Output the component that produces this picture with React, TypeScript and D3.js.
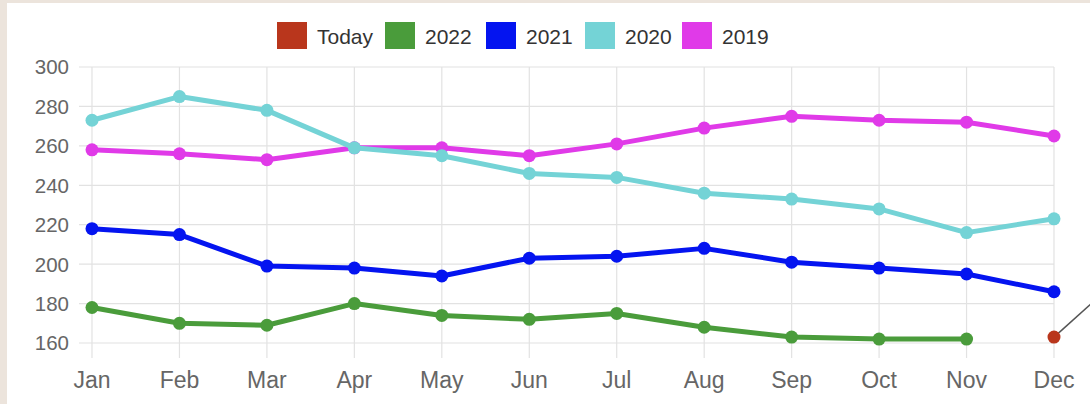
import React, { useEffect, useRef } from 'react';
import * as d3 from 'd3';

const months = ['Jan', 'Feb', 'Mar', 'Apr', 'May', 'Jun', 'Jul', 'Aug', 'Sep', 'Oct', 'Nov', 'Dec'];
const yTicks = [160, 180, 200, 220, 240, 260, 280, 300];

const values2019 = [258, 256, 253, 259, 259, 255, 261, 269, 275, 273, 272, 265];
const values2020 = [273, 285, 278, 259, 255, 246, 244, 236, 233, 228, 216, 223];
const values2021 = [218, 215, 199, 198, 194, 203, 204, 208, 201, 198, 195, 186];
const values2022 = [178, 170, 169, 180, 174, 172, 175, 168, 163, 162, 162, null];
const valuesToday = [null, null, null, null, null, null, null, null, null, null, null, 163];

const seriesNames = ['Today', '2022', '2021', '2020', '2019'];
const seriesColors = ['#b9361c', '#4a9c3b', '#0414f0', '#74d3d6', '#e03ae8'];

const width = 1090;
const height = 404;

const App: React.FC = () => {
  const ref = useRef<SVGSVGElement | null>(null);

  useEffect(() => {
    if (!ref.current) return;
    const svg = d3.select(ref.current);
    svg.selectAll('*').remove();

    // frame
    svg.append('rect').attr('width', width).attr('height', height).attr('fill', '#ece4dc');
    svg.append('rect').attr('x', 7).attr('y', 3).attr('width', width - 7).attr('height', height - 3).attr('fill', '#ffffff');

    const x = d3.scalePoint<string>().domain(months).range([92, 1054]);
    const y = d3.scaleLinear().domain([160, 300]).range([343, 67]);

    const grid = svg.append('g');
    grid.selectAll('.hgrid')
      .data(yTicks)
      .enter().append('line')
      .attr('x1', 79).attr('x2', 1054)
      .attr('y1', d => y(d)).attr('y2', d => y(d))
      .attr('stroke', '#e2e2e2').attr('stroke-width', 1.2);
    grid.selectAll('.vgrid')
      .data(months)
      .enter().append('line')
      .attr('x1', d => x(d) as number).attr('x2', d => x(d) as number)
      .attr('y1', y(300)).attr('y2', 358)
      .attr('stroke', '#e2e2e2').attr('stroke-width', 1.2);

    svg.selectAll('.ylab')
      .data(yTicks)
      .enter().append('text')
      .attr('x', 69).attr('y', d => y(d))
      .attr('dy', '0.36em')
      .attr('text-anchor', 'end')
      .attr('font-family', 'Liberation Sans, Arial, sans-serif')
      .attr('font-size', 20.5)
      .attr('fill', '#666')
      .text(d => d);

    svg.selectAll('.xlab')
      .data(months)
      .enter().append('text')
      .attr('x', d => x(d) as number).attr('y', 388)
      .attr('text-anchor', 'middle')
      .attr('font-family', 'Liberation Sans, Arial, sans-serif')
      .attr('font-size', 23)
      .attr('fill', '#666')
      .text(d => d);

    // callout line from today's point
    svg.append('line')
      .attr('x1', x('Dec') as number).attr('y1', y(163))
      .attr('x2', 1092).attr('y2', 303)
      .attr('stroke', '#555').attr('stroke-width', 1.5);

    const allSeries = [valuesToday, values2022, values2021, values2020, values2019];
    const drawOrder = [4, 3, 2, 1, 0];
    const line = d3.line<number | null>()
      .defined(d => d != null)
      .x((_, i) => x(months[i]) as number)
      .y(d => y(d as number));

    drawOrder.forEach(si => {
      const data = allSeries[si];
      const color = seriesColors[si];
      svg.append('path')
        .datum(data)
        .attr('d', line)
        .attr('fill', 'none')
        .attr('stroke', color)
        .attr('stroke-width', 5)
        .attr('stroke-linejoin', 'round');
      svg.append('g').selectAll('circle')
        .data(data.map((v, i) => ({ v, i })).filter(d => d.v != null))
        .enter().append('circle')
        .attr('cx', d => x(months[d.i]) as number)
        .attr('cy', d => y(d.v as number))
        .attr('r', 6.5)
        .attr('fill', color);
    });

    // legend
    const legendX = [277, 385, 486, 585, 682];
    const legend = svg.append('g');
    seriesNames.forEach((name, i) => {
      legend.append('rect')
        .attr('x', legendX[i]).attr('y', 22)
        .attr('width', 30).attr('height', 27)
        .attr('fill', seriesColors[i]);
      legend.append('text')
        .attr('x', legendX[i] + 40).attr('y', 36)
        .attr('dy', '0.36em')
        .attr('font-family', 'Liberation Sans, Arial, sans-serif')
        .attr('font-size', 21)
        .attr('fill', '#333')
        .text(name);
    });
  }, []);

  return (
    <svg ref={ref} width={width} height={height} style={{ position: 'absolute', left: 0, top: 0 }} />
  );
};

export default App;
